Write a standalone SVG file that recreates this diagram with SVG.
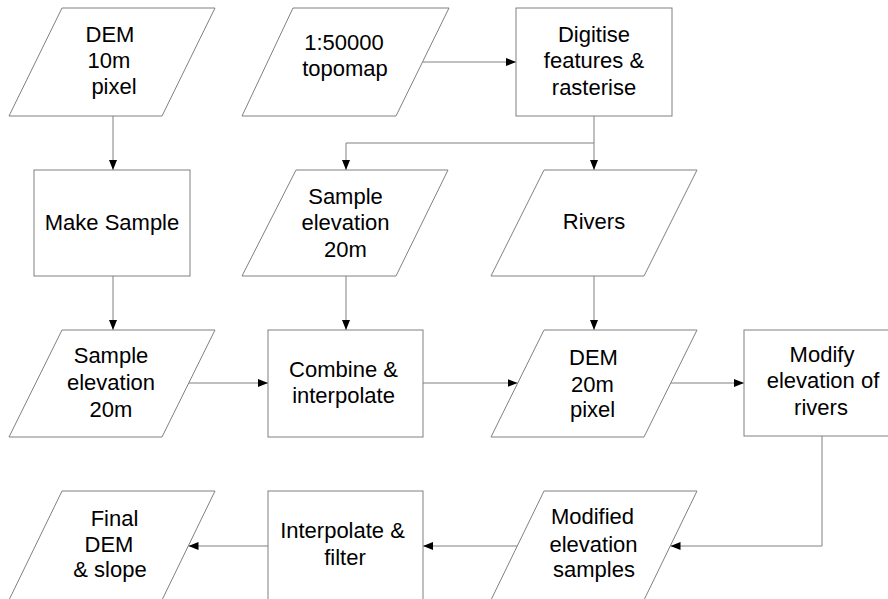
<svg xmlns="http://www.w3.org/2000/svg" width="888" height="599" viewBox="0 0 888 599">
<style>
.shape{fill:#ffffff;stroke:#808080;stroke-width:1}
.conn{fill:none;stroke:#808080;stroke-width:1}
.lbl{font-family:"Liberation Sans",Arial,sans-serif;font-size:22px;fill:#000000;text-anchor:middle}
.lbs{font-family:"Liberation Sans",Arial,sans-serif;font-size:22px;fill:#000000;text-anchor:start}
</style>
<defs>
<marker id="arr" markerUnits="userSpaceOnUse" markerWidth="11" markerHeight="9" refX="10" refY="4" orient="auto">
<path d="M0,0 L10,4 L0,8 z" fill="#000000"/>
</marker>
</defs>
<rect x="0" y="0" width="888" height="599" fill="#ffffff"/>
<g id="connectors">
<path class="conn" d="M113,116 V170" marker-end="url(#arr)"/>
<path class="conn" d="M422.5,62 H516" marker-end="url(#arr)"/>
<path class="conn" d="M594,116 V170" marker-end="url(#arr)"/>
<path class="conn" d="M594,143 H346 V170" marker-end="url(#arr)"/>
<path class="conn" d="M113,276 V330" marker-end="url(#arr)"/>
<path class="conn" d="M346,276 V330" marker-end="url(#arr)"/>
<path class="conn" d="M594,276 V330" marker-end="url(#arr)"/>
<path class="conn" d="M188.5,383 H268" marker-end="url(#arr)"/>
<path class="conn" d="M423,383 H517.5" marker-end="url(#arr)"/>
<path class="conn" d="M670.5,383 H744" marker-end="url(#arr)"/>
<path class="conn" d="M822,436 V546 H670.5" marker-end="url(#arr)"/>
<path class="conn" d="M517.5,546 H423" marker-end="url(#arr)"/>
<path class="conn" d="M268,546 H188.5" marker-end="url(#arr)"/>
</g>
<g id="dem10">
<polygon class="shape" points="62,8 215,8 162,116 9,116"/>
<text class="lbl" x="110" y="42">DEM</text>
<text class="lbl" x="109" y="68">10m</text>
<text class="lbl" x="114" y="94">pixel</text>
</g>
<g id="topomap">
<polygon class="shape" points="293,8 449,8 396,116 242,116"/>
<text class="lbl" x="344" y="50">1:50000</text>
<text class="lbl" x="345" y="76">topomap</text>
</g>
<g id="digitise">
<rect class="shape" x="516" y="8" width="156" height="108"/>
<text class="lbl" x="594" y="42">Digitise</text>
<text class="lbl" x="594" y="68">features &amp;</text>
<text class="lbl" x="594" y="95">rasterise</text>
</g>
<g id="makesample">
<rect class="shape" x="34" y="170" width="156" height="106"/>
<text class="lbl" x="112" y="230">Make Sample</text>
</g>
<g id="sample1">
<polygon class="shape" points="296,170 448,170 396,276 242,276"/>
<text class="lbl" x="345.5" y="204">Sample</text>
<text class="lbl" x="345.5" y="230">elevation</text>
<text class="lbl" x="345.5" y="257">20m</text>
</g>
<g id="rivers">
<polygon class="shape" points="544,170 697,170 644,276 491,276"/>
<text class="lbl" x="594" y="229">Rivers</text>
</g>
<g id="sample2">
<polygon class="shape" points="62,330 215,330 162,437 9,437"/>
<text class="lbl" x="111" y="363">Sample</text>
<text class="lbl" x="111" y="390">elevation</text>
<text class="lbl" x="111" y="417">20m</text>
</g>
<g id="combine">
<rect class="shape" x="268" y="330" width="155" height="107"/>
<text class="lbl" x="343.5" y="377">Combine &amp;</text>
<text class="lbl" x="343.5" y="403">interpolate</text>
</g>
<g id="dem20">
<polygon class="shape" points="544,330 697,330 644,437 491,437"/>
<text class="lbs" x="569" y="365">DEM</text>
<text class="lbs" x="571" y="392">20m</text>
<text class="lbs" x="570" y="417">pixel</text>
</g>
<g id="modify">
<rect class="shape" x="744" y="330" width="160" height="106"/>
<text class="lbl" x="822" y="362">Modify</text>
<text class="lbl" x="823" y="388">elevation of</text>
<text class="lbl" x="821" y="415">rivers</text>
</g>
<g id="final">
<polygon class="shape" points="62,491 215,491 162,600 9,600"/>
<text class="lbl" x="114.5" y="526">Final</text>
<text class="lbl" x="109" y="552">DEM</text>
<text class="lbl" x="110" y="577">&amp; slope</text>
</g>
<g id="interpolate">
<rect class="shape" x="268" y="491" width="155" height="110"/>
<text class="lbl" x="342.5" y="538">Interpolate &amp;</text>
<text class="lbl" x="345" y="565">filter</text>
</g>
<g id="modified">
<polygon class="shape" points="544,491 697,491 644,600 491,600"/>
<text class="lbl" x="592.5" y="524">Modified</text>
<text class="lbl" x="593.5" y="552">elevation</text>
<text class="lbl" x="594" y="577">samples</text>
</g>
</svg>
